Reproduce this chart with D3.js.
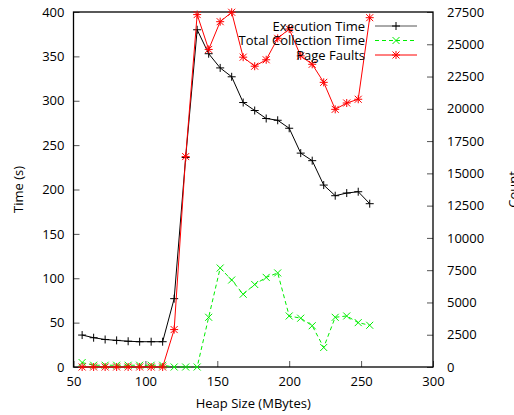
<!DOCTYPE html>
<html>
<head>
<meta charset="utf-8">
<script src="https://cdn.jsdelivr.net/npm/d3@7"></script>
<style>
  body { margin: 0; background: #fff; }
  svg { font-family: "Open Sans", sans-serif; font-size: 13px; }
</style>
</head>
<body>
<div class="chart"></div>
<script>
let w = 514;
let h = 415;

// data
let heapSizes = [56, 64, 72, 80, 88, 96, 104, 112, 120, 128, 136, 144, 152, 160, 168,
                 176, 184, 192, 200, 208, 216, 224, 232, 240, 248, 256];
let execTime = [36, 33, 31, 30, 29, 28.5, 28.5, 28.5, 77, 236, 380, 353, 337, 327, 298,
                289, 280, 278, 269, 241, 232.5, 205, 193, 196, 197.5, 184];
let gcTime = [5, 2, 2, 2, 2, 2, 2, 2, 0, 0, 0, 56, 111.5, 98, 82,
              93, 101, 106, 57.5, 55, 46.5, 22, 56, 57.5, 50, 47];
let pageFaults = [0, 0, 0, 0, 0, 0, 0, 0, 2900, 16300, 27300, 24600, 26750, 27480, 24000,
                  23300, 23800, 25460, 26180, 24100, 23450, 22050, 19960, 20450, 20740, 27060];

let xTicks = [50, 100, 150, 200, 250, 300];
let yTicks = [0, 50, 100, 150, 200, 250, 300, 350, 400];
let y2Ticks = [0, 2500, 5000, 7500, 10000, 12500, 15000, 17500, 20000, 22500, 25000, 27500];

let seriesNames = ["Execution Time", "Total Collection Time", "Page Faults"];

let padL = 73.5, padR = 433, padT = 12, padB = 367;

let viz = d3.select(".chart")
  .append("svg")
    .attr("width", w)
    .attr("height", h)
;

let x = d3.scaleLinear().domain([50, 300]).range([padL, padR]);
let y = d3.scaleLinear().domain([0, 400]).range([padB, padT]);
let y2 = d3.scaleLinear().domain([0, 27500]).range([padB, padT]);

// axes (gnuplot style, ticks pointing inward)
let xAxis = d3.axisBottom(x).tickValues(xTicks).tickSizeInner(-6).tickSizeOuter(0).tickPadding(10);
let yAxis = d3.axisLeft(y).tickValues(yTicks).tickSizeInner(-6).tickSizeOuter(0).tickPadding(9);
let y2Axis = d3.axisRight(y2).tickValues(y2Ticks).tickFormat(d3.format("d"))
  .tickSizeInner(-6).tickSizeOuter(0).tickPadding(14);

let gx = viz.append("g").attr("transform", "translate(0," + padB + ")").call(xAxis);
let gy = viz.append("g").attr("transform", "translate(" + padL + ",0)").call(yAxis);
let gy2 = viz.append("g").attr("transform", "translate(" + padR + ",0)").call(y2Axis);

[gx, gy, gy2].forEach(function(g) {
  g.select(".domain").remove();
  g.selectAll(".tick line").attr("stroke", "#555").attr("stroke-width", 1);
  g.selectAll(".tick text").attr("fill", "#000").style("font-size", "13px")
    .style("font-family", "'Open Sans', sans-serif");
});

// border box
viz.append("rect")
  .attr("x", padL)
  .attr("y", padT)
  .attr("width", padR - padL)
  .attr("height", padB - padT)
  .attr("fill", "none")
  .attr("stroke", "#000")
  .attr("stroke-width", 1.3)
;

// axis titles
viz.append("text")
  .attr("transform", "translate(23," + ((padT + padB) / 2) + ") rotate(-90)")
  .attr("text-anchor", "middle")
  .text("Time (s)");

viz.append("text")
  .attr("transform", "translate(518," + ((padT + padB) / 2) + ") rotate(-90)")
  .attr("text-anchor", "middle")
  .text("Count");

viz.append("text")
  .attr("x", (padL + padR) / 2)
  .attr("y", 408)
  .attr("text-anchor", "middle")
  .text("Heap Size (MBytes)");

// marker shapes
let plusPath = "M-4,0H4M0,-4V4";
let crossPath = "M-3.5,-3.5L3.5,3.5M-3.5,3.5L3.5,-3.5";
let starPath = plusPath + crossPath;

let series = [
  { name: seriesNames[0], values: execTime, scale: y, color: "#000", dash: null, marker: plusPath },
  { name: seriesNames[1], values: gcTime, scale: y, color: "#00ee00", dash: "4,3", marker: crossPath },
  { name: seriesNames[2], values: pageFaults, scale: y2, color: "#ff0000", dash: null, marker: starPath }
];

let container = viz.append("g").attr("class", "lines");

series.forEach(function(s) {
  let pts = heapSizes.map(function(d, i) { return { x: d, v: s.values[i] }; });
  let line = d3.line()
    .x(function(d) { return x(d.x); })
    .y(function(d) { return s.scale(d.v); });

  container.append("path")
    .attr("d", line(pts))
    .attr("fill", "none")
    .attr("stroke", s.color)
    .attr("stroke-width", 1)
    .attr("stroke-dasharray", s.dash);

  container.selectAll(null)
    .data(pts)
    .enter()
    .append("path")
      .attr("transform", function(d) { return "translate(" + x(d.x) + "," + s.scale(d.v) + ")"; })
      .attr("d", s.marker)
      .attr("stroke", s.color)
      .attr("stroke-width", 1)
      .attr("fill", "none");
});

// legend
let legend = viz.append("g").attr("class", "legend");
series.forEach(function(s, i) {
  let ly = 26 + i * 14.5;
  legend.append("text")
    .attr("x", 365)
    .attr("y", ly)
    .attr("dy", "0.35em")
    .attr("text-anchor", "end")
    .style("font-size", "13px")
    .text(s.name);
  legend.append("line")
    .attr("x1", 375)
    .attr("x2", 417)
    .attr("y1", ly)
    .attr("y2", ly)
    .attr("stroke", s.color === "#000" ? "#555" : s.color)
    .attr("stroke-width", 1)
    .attr("stroke-dasharray", s.dash);
  legend.append("path")
    .attr("transform", "translate(396," + ly + ")")
    .attr("d", s.marker)
    .attr("stroke", s.color)
    .attr("fill", "none");
});
</script>
</body>
</html>
